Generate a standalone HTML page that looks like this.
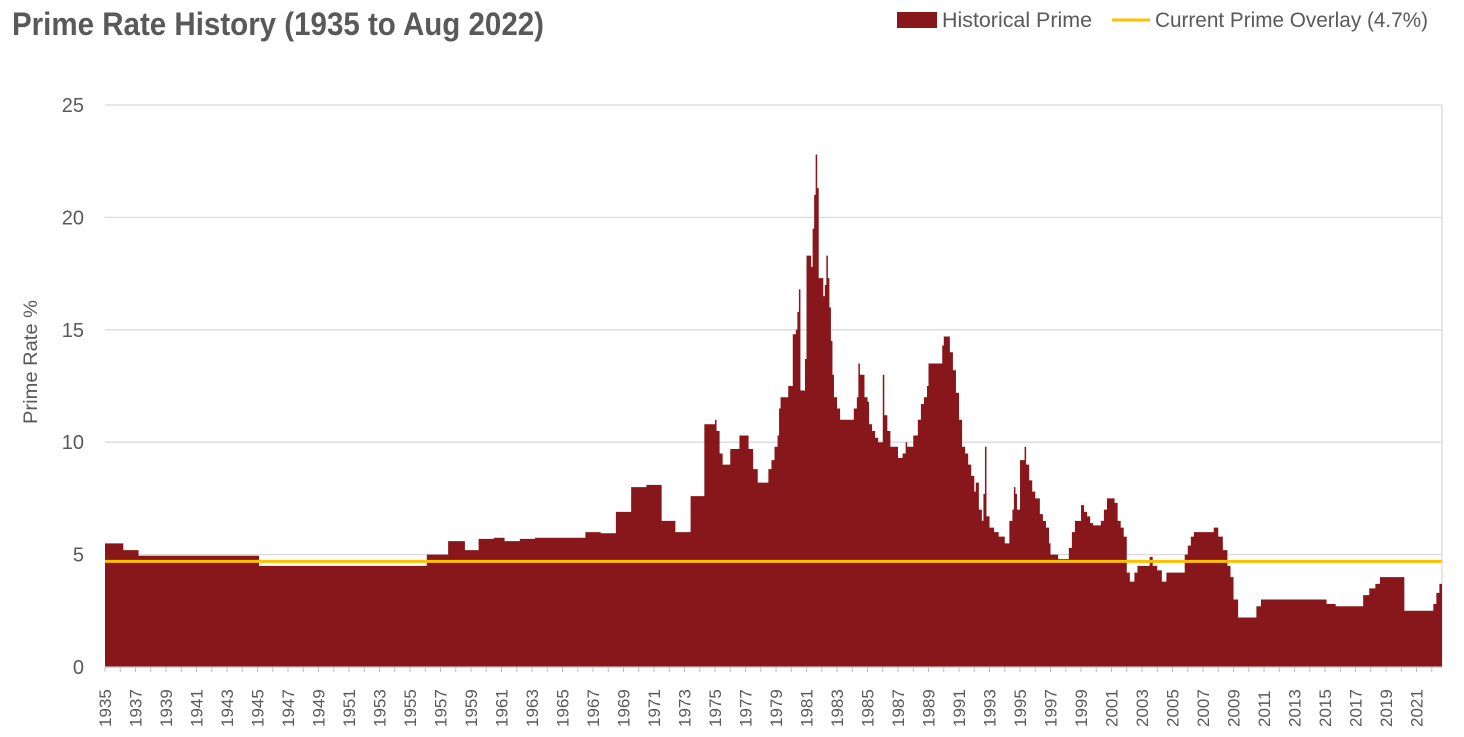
<!DOCTYPE html>
<html><head><meta charset="utf-8">
<style>
html,body{margin:0;padding:0;background:#fff;}
body{width:1464px;height:732px;overflow:hidden;font-family:"Liberation Sans",sans-serif;}
</style></head>
<body>
<svg id="c" width="1464" height="732" xmlns="http://www.w3.org/2000/svg" font-family="Liberation Sans, sans-serif">
<text x="12" y="35" font-weight="bold" font-size="32" fill="#595959" textLength="532" lengthAdjust="spacingAndGlyphs">Prime Rate History (1935 to Aug 2022)</text>
<rect x="897" y="12" width="40" height="16" fill="#87171a"/>
<text x="942" y="27" font-size="21" fill="#595959" textLength="150" lengthAdjust="spacingAndGlyphs">Historical Prime</text>
<line x1="1112" y1="20" x2="1150" y2="20" stroke="#ffc000" stroke-width="3"/>
<text x="1155" y="27" font-size="21" fill="#595959" textLength="273" lengthAdjust="spacingAndGlyphs">Current Prime Overlay (4.7%)</text>
<text transform="translate(37,362) rotate(-90)" text-anchor="middle" font-size="19" fill="#595959" textLength="124" lengthAdjust="spacingAndGlyphs">Prime Rate %</text>
<g id="g"></g>
</svg>
<script>
var X0=105,X1=1442,Y0=667,PY=22.48;
function x(y){return X0+(y-1935)*(X1-X0)/87.67;}
function yv(v){return Y0-v*PY;}
var g=document.getElementById('g'),s='';
for(var v=5;v<=25;v+=5)s+='<line x1="'+X0+'" x2="'+X1+'" y1="'+yv(v)+'" y2="'+yv(v)+'" stroke="#d9d9d9" stroke-width="1.3"/>';
s+='<line x1="'+X1+'" x2="'+X1+'" y1="'+yv(25)+'" y2="'+Y0+'" stroke="#d9d9d9" stroke-width="1.3"/>';
for(var v=0;v<=25;v+=5)s+='<text x="84" y="'+(yv(v)+7)+'" text-anchor="end" font-size="20" fill="#595959">'+v+'</text>';
var d=[1935,5.5,1936.2,5.2,1937.2,4.95,1945.1,4.5,1956.1,5.0,1957.5,5.6,1958.6,5.2,1959.5,5.7,1960.5,5.75,1961.2,5.6,1962.2,5.7,1963.2,5.75,1966.5,6.0,1967.5,5.95,1968.5,6.9,1969.5,8.0,1970.5,8.1,1971.5,6.5,1972.4,6.0,1973.4,7.6,1974.3,10.8,1975.0,11.0,1975.1,10.5,1975.3,9.5,1975.5,9.0,1976,9.7,1976.6,10.3,1977.2,9.7,1977.5,8.8,1977.8,8.2,1978.5,8.8,1978.7,9.2,1978.9,9.8,1979.1,10.3,1979.2,11.5,1979.3,12,1979.8,12.5,1980.1,14.8,1980.3,15,1980.4,15.8,1980.5,16.8,1980.6,12.3,1980.9,13.7,1981.0,18.3,1981.3,17.8,1981.4,19.5,1981.5,21,1981.6,22.8,1981.7,21.3,1981.8,17.3,1982.1,16.5,1982.2,17,1982.3,18.3,1982.4,17.3,1982.5,16,1982.6,14.5,1982.7,13,1982.8,12,1983,11.5,1983.2,11,1984.1,11.5,1984.3,12,1984.4,13.5,1984.5,13,1984.8,12,1985,11.8,1985.1,10.8,1985.3,10.5,1985.5,10.2,1985.7,10,1986,13,1986.1,11.2,1986.3,10.5,1986.5,9.8,1987,9.3,1987.3,9.5,1987.5,10,1987.6,9.8,1988,10.3,1988.3,11,1988.5,11.7,1988.7,12,1988.9,12.5,1989,13.5,1989.9,14.3,1990,14.7,1990.4,14,1990.6,13.2,1990.8,12.2,1991,11,1991.2,9.8,1991.4,9.5,1991.6,9,1991.8,8.5,1992,7.8,1992.1,8.2,1992.3,7,1992.5,6.5,1992.6,7.7,1992.7,9.8,1992.8,6.7,1993,6.2,1993.3,6,1993.6,5.8,1994,5.5,1994.3,6.5,1994.5,7,1994.6,8,1994.7,7.7,1994.8,7,1995,9.2,1995.3,9.8,1995.4,9,1995.6,8.3,1995.8,7.8,1996,7.5,1996.3,6.8,1996.5,6.5,1996.7,6.2,1996.9,5.5,1997,5,1997.5,4.8,1998.2,5.3,1998.4,6,1998.6,6.5,1999,7.2,1999.2,6.9,1999.4,6.7,1999.6,6.4,1999.8,6.3,2000.3,6.5,2000.5,7,2000.7,7.5,2001.2,7.3,2001.4,6.5,2001.6,6.2,2001.8,5.8,2002,4.2,2002.2,3.8,2002.5,4.2,2002.7,4.5,2003.5,4.9,2003.7,4.5,2004,4.3,2004.3,3.8,2004.6,4.2,2005,4.2,2005.8,5,2006,5.4,2006.2,5.8,2006.4,6,2007.7,6.2,2008,5.8,2008.3,5.2,2008.6,4.5,2008.8,4,2009,3,2009.3,2.2,2010.5,2.7,2010.8,3,2015.1,2.8,2015.7,2.7,2017.5,3.2,2017.9,3.5,2018.3,3.7,2018.6,4,2020.2,2.5,2022.1,2.8,2022.3,3.3,2022.5,3.7,2022.67,3.7];
var p='M'+x(1935)+' '+Y0;
for(var i=0;i<d.length;i+=2){var xe=x(d[i]);p+=' L'+xe+' '+yv(d[i+1]);var nx=(i+2<d.length)?x(d[i+2]):X1;p+=' L'+nx+' '+yv(d[i+1]);}
p+=' L'+X1+' '+Y0+' Z';
s+='<path d="'+p+'" fill="#87171a"/>';
s+='<line x1="'+X0+'" x2="'+X1+'" y1="'+yv(4.7)+'" y2="'+yv(4.7)+'" stroke="#ffc000" stroke-width="3"/>';
s+='<line x1="'+X0+'" x2="'+X1+'" y1="'+Y0+'" y2="'+Y0+'" stroke="#bfbfbf" stroke-width="1.3"/>';
for(var yr=1935;yr<=2022;yr++){var xx=x(yr);s+='<line x1="'+xx+'" x2="'+xx+'" y1="'+Y0+'" y2="'+(Y0+5)+'" stroke="#bfbfbf"/>';
if((yr-1935)%2==0)s+='<text transform="translate('+(xx+6)+',727) rotate(-90)" font-size="17" fill="#595959">'+yr+'</text>';}
g.innerHTML=s;
</script>
</body></html>
